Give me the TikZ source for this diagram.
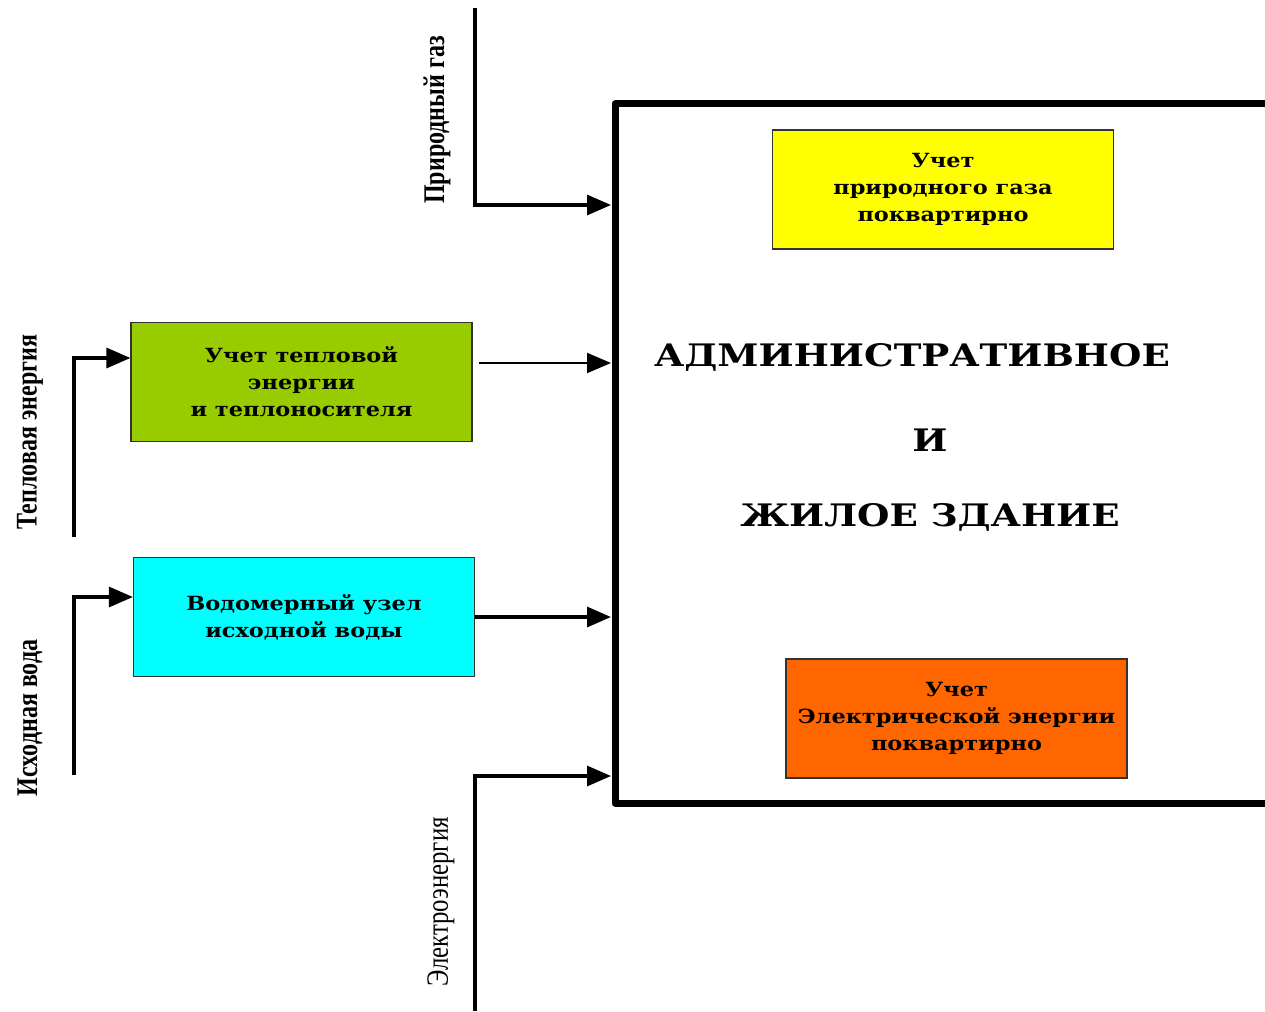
\documentclass[tikz,border=0pt]{standalone}
\usepackage{fontspec}
\setmainfont{DejaVu Serif}
\newfontfamily\boxfont{DejaVu Serif}[FakeStretch=1.15]
\newfontfamily\titlefont{DejaVu Serif}[FakeStretch=1.2]
\newfontfamily\sidefont{Liberation Serif}[FakeStretch=0.8]
\usetikzlibrary{arrows.meta}

\definecolor{gasyellow}{HTML}{FFFF00}
\definecolor{heatgreen}{HTML}{99CC00}
\definecolor{watercyan}{HTML}{00FFFF}
\definecolor{elorange}{HTML}{FF6600}

\tikzset{
  box/.style={draw=black!80,line width=1.2pt,minimum width=341pt,minimum height=119pt,
    align=center,font=\boxfont\bfseries\fontsize{19.5}{27}\selectfont},
  sidelabel/.style={rotate=90,font=\sidefont\bfseries\fontsize{30}{30}\selectfont},
  titletext/.style={font=\titlefont\bfseries\fontsize{31}{31}\selectfont},
  feed/.style={line width=3.2pt,-{Triangle[length=24pt,width=20pt]}},
  thinfeed/.style={line width=2pt,-{Triangle[length=24pt,width=20pt]}},
  frame/.style={line width=7pt,line join=round}
}

\begin{document}
\begin{tikzpicture}[x=1pt,y=-1pt]
  \useasboundingbox (0,0) rectangle (1265,1011);

  \draw[frame] (1270,104) -| (615,803) -- (1270,803);
  \coordinate (fgas)   at (611,205);
  \coordinate (fheat)  at (611,363);
  \coordinate (fwater) at (611,617);
  \coordinate (fel)    at (611,776);

  \node[box,fill=gasyellow]  (gasbox)   at (943,189.5) {Учет\\природного газа\\поквартирно};
  \node[box,fill=heatgreen]  (heatbox)  at (301.5,382) {Учет тепловой\\энергии\\и теплоносителя};
  \node[box,fill=watercyan]  (waterbox) at (304,617) {Водомерный узел\\исходной воды};
  \node[box,fill=elorange]   (elbox)    at (956.5,718.5) {Учет\\Электрической энергии\\поквартирно};

  \node[titletext] (title1) at (912,357) {АДМИНИСТРАТИВНОЕ};
  \node[titletext] (title2) at (930,440) {И};
  \node[titletext] (title3) at (930,517) {ЖИЛОЕ ЗДАНИЕ};

  \node[sidelabel] (gaslabel)   at (437,120) {Природный газ};
  \node[sidelabel] (heatlabel)  at (30,432)  {Тепловая энергия};
  \node[sidelabel] (waterlabel) at (30,718)  {Исходная вода};
  \node[sidelabel,font=\sidefont\fontsize{31}{31}\selectfont] (ellabel) at (441,902) {Электроэнергия};

  \coordinate (gastop)    at (475,8);
  \coordinate (heatfoot)  at (74,537);
  \coordinate (waterfoot) at (74,775);
  \coordinate (elfoot)    at (475,1011);

  \draw[feed] (gastop) |- (fgas);
  \draw[feed] (heatfoot) |- ([yshift=24pt]heatbox.west);
  \draw[thinfeed] ([xshift=6pt,yshift=19pt]heatbox.east) -- (fheat);
  \draw[feed] (waterfoot) |- ([yshift=20pt]waterbox.west);
  \draw[feed] (waterbox.east) -- (fwater);
  \draw[feed] (elfoot) |- (fel);

\end{tikzpicture}
\end{document}
